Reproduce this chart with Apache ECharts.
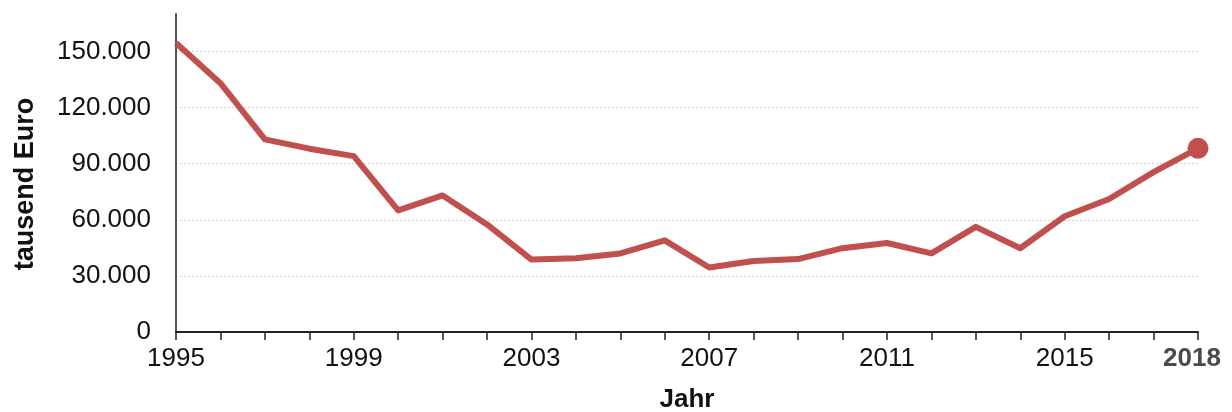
<!DOCTYPE html>
<html>
<head>
<meta charset="utf-8">
<script src="https://cdn.jsdelivr.net/npm/echarts@6/dist/echarts.min.js"></script>
<style>
  html, body { margin: 0; padding: 0; background: #ffffff; }
  #chart { width: 1232px; height: 412px; }
</style>
</head>
<body>
<div id="chart"></div>
<script>
// Jahre und Werte (tausend Euro)
const years = ['1995','1996','1997','1998','1999','2000','2001','2002','2003','2004','2005','2006',
               '2007','2008','2009','2010','2011','2012','2013','2014','2015','2016','2017','2018'];
const values = [154500, 133000, 103000, 98000, 94000, 65000, 73000, 57500, 38700, 39400, 42000, 49000,
                34500, 38000, 39000, 44800, 47600, 42000, 56200, 44800, 61900, 71100, 85500, 98200];
const yTicks = [0, 30000, 60000, 90000, 120000, 150000];

const lastIndex = years.length - 1;
const fontFamily = '"Liberation Sans", Arial, Helvetica, sans-serif';

function formatDe(v) {
  return String(v).replace(/\B(?=(\d{3})+(?!\d))/g, '.');
}

const chart = echarts.init(document.getElementById('chart'), null, { renderer: 'canvas' });

chart.setOption({
  animation: false,
  backgroundColor: '#ffffff',
  grid: { left: 176, right: 34, top: 14, bottom: 80, containLabel: false, outerBoundsMode: 'none' },
  xAxis: {
    type: 'category',
    data: years,
    boundaryGap: false,
    name: 'Jahr',
    nameLocation: 'middle',
    nameGap: 55,
    nameTextStyle: { fontFamily, fontSize: 26, fontWeight: 'bold', color: '#111', verticalAlign: 'top' },
    axisLine: { show: true, lineStyle: { color: '#222', width: 2 } },
    axisTick: { show: true, interval: 0, length: 8, lineStyle: { color: '#222', width: 1.5 } },
    axisLabel: {
      interval: (idx) => idx % 4 === 0 || idx === lastIndex,
      margin: 14,
      fontFamily,
      fontSize: 26,
      color: '#111',
      formatter: (v, idx) => idx === lastIndex ? '{last|' + v + '}' : v,
      rich: {
        // the closing year sits a little left so it stays inside the canvas
        last: { fontFamily, fontSize: 26, fontWeight: 'bold', color: '#4a4a4a', padding: [0, 12, 0, 0] }
      }
    },
    splitLine: { show: false }
  },
  yAxis: {
    type: 'value',
    min: 0,
    max: 170000,
    interval: 30000,
    name: 'tausend Euro',
    nameLocation: 'middle',
    nameGap: 137,
    nameTextStyle: { fontFamily, fontSize: 27, fontWeight: 'bold', color: '#111', padding: [0, 22, 0, 0] },
    axisLine: { show: true, lineStyle: { color: '#555', width: 2 } },
    axisTick: { show: false },
    axisLabel: {
      margin: 25,
      fontFamily,
      fontSize: 26,
      color: '#111',
      showMaxLabel: false,
      formatter: (v) => yTicks.includes(v) ? formatDe(v) : ''
    },
    splitLine: {
      show: true,
      showMinLine: false,
      showMaxLine: false,
      lineStyle: { color: '#cfcfcf', width: 1, type: [2, 2] }
    }
  },
  series: [{
    type: 'line',
    data: values,
    showSymbol: true,
    showAllSymbol: true,
    symbol: 'circle',
    symbolSize: (v, p) => p.dataIndex === lastIndex ? 21 : 0,
    lineStyle: { color: '#C0504D', width: 6, join: 'round' },
    itemStyle: { color: '#C0504D' },
    emphasis: { disabled: true }
  }]
});
</script>
</body>
</html>
